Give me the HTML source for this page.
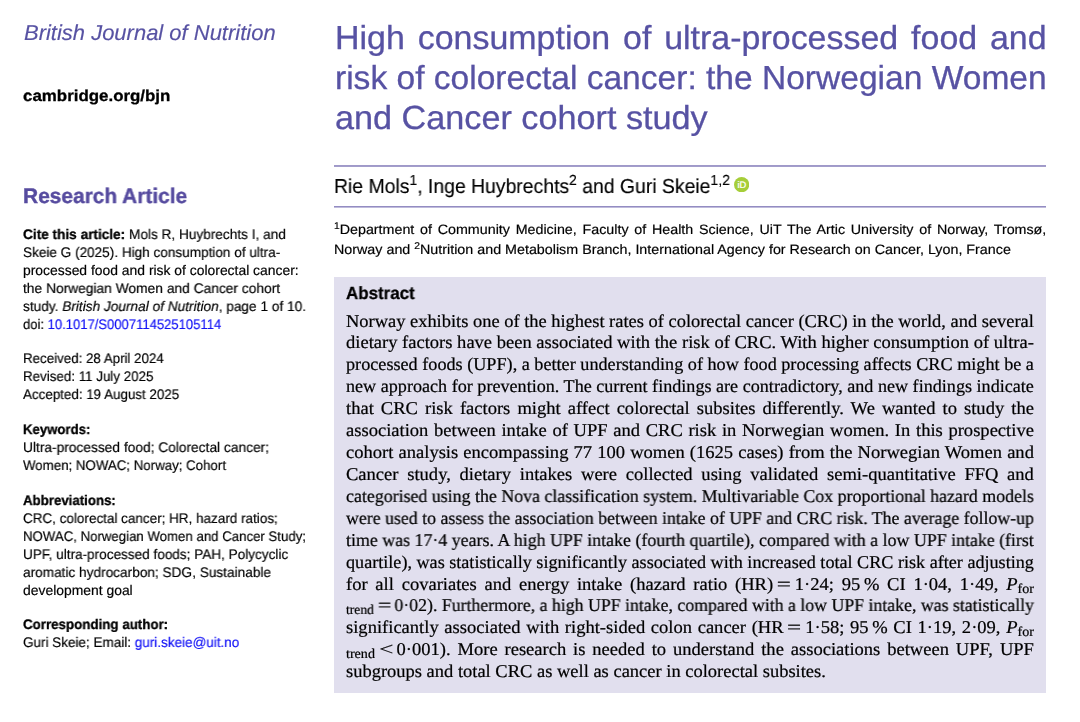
<!DOCTYPE html>
<html lang="en">
<head>
<meta charset="utf-8">
<title>High consumption of ultra-processed food and risk of colorectal cancer</title>
<style>
html,body{margin:0;padding:0;background:#fff}
body{width:1080px;height:722px;position:relative;overflow:hidden;
 font-family:"Liberation Sans",sans-serif;color:#000;
 -webkit-font-smoothing:antialiased;text-rendering:geometricPrecision}
.l{position:absolute;white-space:nowrap;margin:0;transform-origin:0 0;will-change:transform}
.l sup{font-size:72%;line-height:0;vertical-align:baseline;position:relative;top:-0.52em}
.l sub{font-size:76%;line-height:0;vertical-align:baseline;position:relative;top:0.23em}
.eq{display:inline-block;transform:scaleX(1.35);margin:0 1.8px}
.l b{-webkit-text-stroke:0.3px #000}
.lk{color:#1212f6}
.rule{position:absolute;left:334px;width:712px;height:2px}
#box{position:absolute;left:334px;top:277px;width:712px;height:416px;background:#e1dfee}
#orcid{position:absolute;left:733.85px;top:177.05px;width:15.3px;height:15.3px}
</style>
</head>
<body>
<div id="box"></div>
<div class="rule" style="top:165px;background:linear-gradient(to bottom,#9f99c9 0,#9f99c9 50%,#a39dcb 50%,#a39dcb 100%)"></div>
<div class="rule" style="top:206px;background:linear-gradient(to bottom,#938cc2 0,#938cc2 50%,#bfbbdc 50%,#bfbbdc 100%)"></div>
<div class="l" id="jrnl" style="left:23.70px;top:18.70px;font-size:21.60px;line-height:28.08px;height:28.08px;font-style:italic;color:#5752a3;-webkit-text-stroke:0.15px;transform:scaleX(1.0177)">British Journal of Nutrition</div>
<div class="l" id="camb" style="left:23.20px;top:87.40px;font-size:15.80px;line-height:20.54px;height:20.54px;font-weight:bold;-webkit-text-stroke:0.3px #000;transform:scaleX(1.0696)">cambridge.org/bjn</div>
<div class="l" id="ra" style="left:23.30px;top:182.71px;font-size:21.00px;line-height:27.30px;height:27.30px;font-weight:bold;color:#564b9f;-webkit-text-stroke:0.4px #564b9f;transform:scaleX(0.9952)">Research Article</div>
<div class="l" id="sb0" style="left:23.30px;top:224.51px;font-size:13.90px;line-height:18.07px;height:18.07px;-webkit-text-stroke:0.18px;transform:scaleX(0.9810)"><b>Cite this article:</b> Mols R, Huybrechts I, and</div>
<div class="l" id="sb1" style="left:23.30px;top:242.51px;font-size:13.90px;line-height:18.07px;height:18.07px;-webkit-text-stroke:0.18px;transform:scaleX(0.9769)">Skeie G (2025). High consumption of ultra-</div>
<div class="l" id="sb2" style="left:23.30px;top:260.51px;font-size:13.90px;line-height:18.07px;height:18.07px;-webkit-text-stroke:0.18px;transform:scaleX(0.9998)">processed food and risk of colorectal cancer:</div>
<div class="l" id="sb3" style="left:23.30px;top:278.51px;font-size:13.90px;line-height:18.07px;height:18.07px;-webkit-text-stroke:0.18px;transform:scaleX(0.9923)">the Norwegian Women and Cancer cohort</div>
<div class="l" id="sb4" style="left:23.30px;top:296.51px;font-size:13.90px;line-height:18.07px;height:18.07px;-webkit-text-stroke:0.18px;transform:scaleX(0.9834)">study. <i>British Journal of Nutrition</i>, page 1 of 10.</div>
<div class="l" id="sb5" style="left:23.30px;top:314.51px;font-size:13.90px;line-height:18.07px;height:18.07px;-webkit-text-stroke:0.18px;transform:scaleX(0.9386)">doi: <span class="lk">10.1017/S0007114525105114</span></div>
<div class="l" id="sb7" style="left:23.30px;top:348.90px;font-size:13.90px;line-height:18.07px;height:18.07px;-webkit-text-stroke:0.18px;transform:scaleX(0.9596)">Received: 28 April 2024</div>
<div class="l" id="sb8" style="left:23.30px;top:366.90px;font-size:13.90px;line-height:18.07px;height:18.07px;-webkit-text-stroke:0.18px;transform:scaleX(0.9613)">Revised: 11 July 2025</div>
<div class="l" id="sb9" style="left:23.30px;top:384.90px;font-size:13.90px;line-height:18.07px;height:18.07px;-webkit-text-stroke:0.18px;transform:scaleX(0.9631)">Accepted: 19 August 2025</div>
<div class="l" id="sb11" style="left:23.30px;top:419.65px;font-size:13.90px;line-height:18.07px;height:18.07px;-webkit-text-stroke:0.18px;transform:scaleX(0.9477)"><b>Keywords:</b></div>
<div class="l" id="sb12" style="left:23.30px;top:437.65px;font-size:13.90px;line-height:18.07px;height:18.07px;-webkit-text-stroke:0.18px;transform:scaleX(0.9895)">Ultra-processed food; Colorectal cancer;</div>
<div class="l" id="sb13" style="left:23.30px;top:455.65px;font-size:13.90px;line-height:18.07px;height:18.07px;-webkit-text-stroke:0.18px;transform:scaleX(0.9563)">Women; NOWAC; Norway; Cohort</div>
<div class="l" id="sb15" style="left:23.30px;top:490.60px;font-size:13.90px;line-height:18.07px;height:18.07px;-webkit-text-stroke:0.18px;transform:scaleX(0.9542)"><b>Abbreviations:</b></div>
<div class="l" id="sb16" style="left:23.30px;top:508.60px;font-size:13.90px;line-height:18.07px;height:18.07px;-webkit-text-stroke:0.18px;transform:scaleX(0.9707)">CRC, colorectal cancer; HR, hazard ratios;</div>
<div class="l" id="sb17" style="left:23.30px;top:526.60px;font-size:13.90px;line-height:18.07px;height:18.07px;-webkit-text-stroke:0.18px;transform:scaleX(0.9521)">NOWAC, Norwegian Women and Cancer Study;</div>
<div class="l" id="sb18" style="left:23.30px;top:544.60px;font-size:13.90px;line-height:18.07px;height:18.07px;-webkit-text-stroke:0.18px;transform:scaleX(0.9769)">UPF, ultra-processed foods; PAH, Polycyclic</div>
<div class="l" id="sb19" style="left:23.30px;top:562.60px;font-size:13.90px;line-height:18.07px;height:18.07px;-webkit-text-stroke:0.18px;transform:scaleX(0.9822)">aromatic hydrocarbon; SDG, Sustainable</div>
<div class="l" id="sb20" style="left:23.30px;top:580.60px;font-size:13.90px;line-height:18.07px;height:18.07px;-webkit-text-stroke:0.18px;transform:scaleX(1.0003)">development goal</div>
<div class="l" id="sb22" style="left:23.30px;top:615.31px;font-size:13.90px;line-height:18.07px;height:18.07px;-webkit-text-stroke:0.18px;transform:scaleX(0.9600)"><b>Corresponding author:</b></div>
<div class="l" id="sb23" style="left:23.30px;top:633.31px;font-size:13.90px;line-height:18.07px;height:18.07px;-webkit-text-stroke:0.18px;transform:scaleX(0.9719)">Guri Skeie; Email: <span class="lk">guri.skeie@uit.no</span></div>
<div class="l" id="t1" style="left:334.85px;top:16.81px;font-size:33.30px;line-height:43.29px;height:43.29px;color:#5752a3;-webkit-text-stroke:0.3px #5752a3;text-align:justify;text-align-last:justify;width:697.70px;transform:scaleX(1.0200)">High consumption of ultra-processed food and</div>
<div class="l" id="t2" style="left:334.85px;top:56.86px;font-size:33.30px;line-height:43.29px;height:43.29px;color:#5752a3;-webkit-text-stroke:0.3px #5752a3;text-align:justify;text-align-last:justify;width:706.35px;transform:scaleX(1.0075)">risk of colorectal cancer: the Norwegian Women</div>
<div class="l" id="t3" style="left:334.85px;top:96.81px;font-size:33.30px;line-height:43.29px;height:43.29px;color:#5752a3;-webkit-text-stroke:0.3px #5752a3;transform:scaleX(1.0272)">and Cancer cohort study</div>
<div class="l" id="au" style="left:334.10px;top:173.51px;font-size:20.20px;line-height:26.26px;height:26.26px;-webkit-text-stroke:0.15px;transform:scaleX(0.9602)">Rie Mols<sup>1</sup>, Inge Huybrechts<sup>2</sup> and Guri Skeie<sup>1,2</sup></div>
<div class="l" id="af1" style="left:334.00px;top:220.71px;font-size:13.60px;line-height:17.68px;height:17.68px;-webkit-text-stroke:0.18px;text-align:justify;text-align-last:justify;width:678.38px;transform:scaleX(1.0500)"><sup>1</sup>Department of Community Medicine, Faculty of Health Science, UiT The Artic University of Norway, Tromsø,</div>
<div class="l" id="af2" style="left:334.00px;top:240.76px;font-size:13.60px;line-height:17.68px;height:17.68px;-webkit-text-stroke:0.18px;transform:scaleX(1.0519)">Norway and <sup>2</sup>Nutrition and Metabolism Branch, International Agency for Research on Cancer, Lyon, France</div>
<div class="l" id="abh" style="left:346.00px;top:282.26px;font-size:17.60px;line-height:22.88px;height:22.88px;font-weight:bold;-webkit-text-stroke:0.3px #000;transform:scaleX(0.9625)">Abstract</div>
<div class="l" id="ab0" style="left:346.10px;top:309.56px;font-size:18.00px;line-height:23.40px;height:23.40px;font-family:'Liberation Serif', serif;-webkit-text-stroke:0.22px #000;text-align:justify;text-align-last:justify;width:671.78px;transform:scaleX(1.0240)">Norway exhibits one of the highest rates of colorectal cancer (CRC) in the world, and several</div>
<div class="l" id="ab1" style="left:346.10px;top:331.47px;font-size:18.00px;line-height:23.40px;height:23.40px;font-family:'Liberation Serif', serif;-webkit-text-stroke:0.22px #000;text-align:justify;text-align-last:justify;width:668.25px;transform:scaleX(1.0294)">dietary factors have been associated with the risk of CRC. With higher consumption of ultra-</div>
<div class="l" id="ab2" style="left:346.10px;top:353.38px;font-size:18.00px;line-height:23.40px;height:23.40px;font-family:'Liberation Serif', serif;-webkit-text-stroke:0.22px #000;text-align:justify;text-align-last:justify;width:681.02px;transform:scaleX(1.0101)">processed foods (UPF), a better understanding of how food processing affects CRC might be a</div>
<div class="l" id="ab3" style="left:346.10px;top:375.30px;font-size:18.00px;line-height:23.40px;height:23.40px;font-family:'Liberation Serif', serif;-webkit-text-stroke:0.22px #000;text-align:justify;text-align-last:justify;width:683.25px;transform:scaleX(1.0068)">new approach for prevention. The current findings are contradictory, and new findings indicate</div>
<div class="l" id="ab4" style="left:346.10px;top:397.21px;font-size:18.00px;line-height:23.40px;height:23.40px;font-family:'Liberation Serif', serif;-webkit-text-stroke:0.22px #000;text-align:justify;text-align-last:justify;width:667.86px;transform:scaleX(1.0300)">that CRC risk factors might affect colorectal subsites differently. We wanted to study the</div>
<div class="l" id="ab5" style="left:346.10px;top:419.13px;font-size:18.00px;line-height:23.40px;height:23.40px;font-family:'Liberation Serif', serif;-webkit-text-stroke:0.22px #000;text-align:justify;text-align-last:justify;width:667.86px;transform:scaleX(1.0300)">association between intake of UPF and CRC risk in Norwegian women. In this prospective</div>
<div class="l" id="ab6" style="left:346.10px;top:441.04px;font-size:18.00px;line-height:23.40px;height:23.40px;font-family:'Liberation Serif', serif;-webkit-text-stroke:0.22px #000;text-align:justify;text-align-last:justify;width:667.86px;transform:scaleX(1.0300)">cohort analysis encompassing 77 100 women (1625 cases) from the Norwegian Women and</div>
<div class="l" id="ab7" style="left:346.10px;top:462.96px;font-size:18.00px;line-height:23.40px;height:23.40px;font-family:'Liberation Serif', serif;-webkit-text-stroke:0.22px #000;text-align:justify;text-align-last:justify;width:667.86px;transform:scaleX(1.0300)">Cancer study, dietary intakes were collected using validated semi-quantitative FFQ and</div>
<div class="l" id="ab8" style="left:346.10px;top:484.87px;font-size:18.00px;line-height:23.40px;height:23.40px;font-family:'Liberation Serif', serif;-webkit-text-stroke:0.22px #000;text-align:justify;text-align-last:justify;width:693.31px;transform:scaleX(0.9922)">categorised using the Nova classification system. Multivariable Cox proportional hazard models</div>
<div class="l" id="ab9" style="left:346.10px;top:506.80px;font-size:18.00px;line-height:23.40px;height:23.40px;font-family:'Liberation Serif', serif;-webkit-text-stroke:0.22px #000;text-align:justify;text-align-last:justify;width:695.48px;transform:scaleX(0.9891)">were used to assess the association between intake of UPF and CRC risk. The average follow-up</div>
<div class="l" id="ab10" style="left:346.10px;top:528.70px;font-size:18.00px;line-height:23.40px;height:23.40px;font-family:'Liberation Serif', serif;-webkit-text-stroke:0.22px #000;text-align:justify;text-align-last:justify;width:692.89px;transform:scaleX(0.9928)">time was 17·4 years. A high UPF intake (fourth quartile), compared with a low UPF intake (first</div>
<div class="l" id="ab11" style="left:346.10px;top:550.63px;font-size:18.00px;line-height:23.40px;height:23.40px;font-family:'Liberation Serif', serif;-webkit-text-stroke:0.22px #000;text-align:justify;text-align-last:justify;width:682.85px;transform:scaleX(1.0074)">quartile), was statistically significantly associated with increased total CRC risk after adjusting</div>
<div class="l" id="ab12" style="left:346.10px;top:572.53px;font-size:18.00px;line-height:23.40px;height:23.40px;font-family:'Liberation Serif', serif;-webkit-text-stroke:0.22px #000;text-align:justify;text-align-last:justify;width:667.86px;transform:scaleX(1.0300)">for all covariates and energy intake (hazard ratio (HR) <span class="eq">=</span> 1·24; 95 % CI 1·04, 1·49, <i>P</i><sub>for</sub></div>
<div class="l" id="ab13" style="left:346.10px;top:594.46px;font-size:18.00px;line-height:23.40px;height:23.40px;font-family:'Liberation Serif', serif;-webkit-text-stroke:0.22px #000;text-align:justify;text-align-last:justify;width:696.47px;transform:scaleX(0.9877)"><sub>trend</sub> <span class="eq">=</span> 0·02). Furthermore, a high UPF intake, compared with a low UPF intake, was statistically</div>
<div class="l" id="ab14" style="left:346.10px;top:616.37px;font-size:18.00px;line-height:23.40px;height:23.40px;font-family:'Liberation Serif', serif;-webkit-text-stroke:0.22px #000;text-align:justify;text-align-last:justify;width:667.86px;transform:scaleX(1.0300)">significantly associated with right-sided colon cancer (HR <span class="eq">=</span> 1·58; 95 % CI 1·19, 2·09, <i>P</i><sub>for</sub></div>
<div class="l" id="ab15" style="left:346.10px;top:638.27px;font-size:18.00px;line-height:23.40px;height:23.40px;font-family:'Liberation Serif', serif;-webkit-text-stroke:0.22px #000;text-align:justify;text-align-last:justify;width:667.86px;transform:scaleX(1.0300)"><sub>trend</sub> <span class="eq">&lt;</span> 0·001). More research is needed to understand the associations between UPF, UPF</div>
<div class="l" id="ab16" style="left:346.10px;top:660.20px;font-size:18.00px;line-height:23.40px;height:23.40px;font-family:'Liberation Serif', serif;-webkit-text-stroke:0.22px #000;transform:scaleX(1.0267)">subgroups and total CRC as well as cancer in colorectal subsites.</div>
<svg id="orcid" viewBox="0 0 16 16">
<circle cx="8" cy="8" r="8" fill="#a6ce39"/>
<text x="8.1" y="11.5" font-family="Liberation Sans, sans-serif" font-size="9.8" fill="#fff" stroke="#fff" stroke-width="0.25" text-anchor="middle" letter-spacing="-0.2">iD</text>
</svg>
</body>
</html>
